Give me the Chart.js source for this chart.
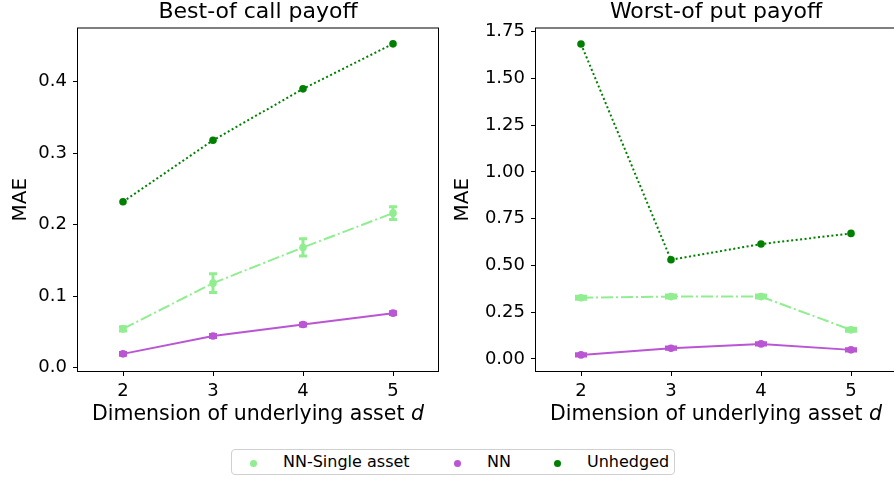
<!DOCTYPE html>
<html>
<head>
<meta charset="utf-8">
<script src="https://cdn.jsdelivr.net/npm/chart.js@4.4.1/dist/chart.umd.min.js"></script>
<style>
  body { margin: 0; width: 894px; height: 479px; overflow: hidden; background: #fff; position: relative; font-family: 'DejaVu Sans', sans-serif; }
  #c1 { position: absolute; left: 0; top: 0; }
  #c2 { position: absolute; left: 440px; top: 0; }
  #legend { position: absolute; left: 231px; top: 449px; width: 442px; height: 24px; border: 1px solid #d0d0d0; border-radius: 4px; background: #fff; }
  #legend i { position: absolute; top: 10px; width: 7px; height: 7px; border-radius: 50%; }
  #legend span { position: absolute; top: 4px; font-size: 16px; line-height: 16px; color: #000; white-space: nowrap; }
</style>
</head>
<body>
<canvas id="c1" width="450" height="440"></canvas>
<canvas id="c2" width="470" height="440"></canvas>
<div id="legend"></div>
<script>
// x positions (dimension d)
const dims = [2, 3, 4, 5];
const seriesNames = ['NN-Single asset', 'NN', 'Unhedged'];
const colors = ['#90ee90', '#ba55d3', '#008000'];

// Best-of call payoff
const callSingle = [0.054, 0.118, 0.168, 0.216];
const callSingleErr = [0.003, 0.013, 0.012, 0.009];
const callNN = [0.019, 0.044, 0.060, 0.076];
const callNNErr = [0.002, 0.002, 0.002, 0.002];
const callUnhedged = [0.232, 0.318, 0.390, 0.453];
const callTicks = [0, 0.1, 0.2, 0.3, 0.4];

// Worst-of put payoff
const putSingle = [0.327, 0.333, 0.333, 0.155];
const putSingleErr = [0.008, 0.008, 0.008, 0.008];
const putNN = [0.021, 0.057, 0.080, 0.048];
const putNNErr = [0.006, 0.006, 0.006, 0.006];
const putUnhedged = [1.684, 0.530, 0.614, 0.671];
const putTicks = [0, 0.25, 0.5, 0.75, 1.0, 1.25, 1.5, 1.75];

const FONT = 'DejaVu Sans';

function pts(vals) {
  return vals.map((v, i) => ({ x: dims[i], y: v }));
}

// draws vertical error bars with caps
const errorBars = {
  id: 'errorBars',
  afterDatasetsDraw(chart, args, opts) {
    const { ctx, scales: { x, y } } = chart;
    chart.data.datasets.forEach(ds => {
      if (!ds.errors) return;
      ctx.save();
      ctx.strokeStyle = ds.borderColor;
      ctx.lineWidth = 3;
      ds.data.forEach((p, j) => {
        const px = x.getPixelForValue(p.x);
        const lo = y.getPixelForValue(p.y - ds.errors[j]);
        const hi = y.getPixelForValue(p.y + ds.errors[j]);
        ctx.beginPath();
        ctx.moveTo(px, lo); ctx.lineTo(px, hi);
        ctx.moveTo(px - opts.cap, lo); ctx.lineTo(px + opts.cap, lo);
        ctx.moveTo(px - opts.cap, hi); ctx.lineTo(px + opts.cap, hi);
        ctx.stroke();
      });
      ctx.restore();
    });
  }
};

// box around plot, title over the plot area, x label with italic d
const frame = {
  id: 'frame',
  afterDraw(chart, args, opts) {
    const { ctx, chartArea: a } = chart;
    const cx = (a.left + a.right) / 2;
    ctx.save();
    ctx.strokeStyle = '#000';
    ctx.lineWidth = 1;
    ctx.strokeRect(a.left - 0.5, a.top - 0.5, a.right - a.left + 1, a.bottom - a.top + 1);

    ctx.fillStyle = '#000';
    ctx.textBaseline = 'alphabetic';
    ctx.textAlign = 'center';
    ctx.font = '22px "' + FONT + '"';
    ctx.fillText(opts.title, cx, 18);

    const t1 = 'Dimension of underlying asset ';
    const t2 = 'd';
    ctx.textAlign = 'left';
    ctx.font = '20.5px "' + FONT + '"';
    const w1 = ctx.measureText(t1).width;
    ctx.font = 'italic 20.5px "' + FONT + '"';
    const w2 = ctx.measureText(t2).width;
    const x0 = cx - (w1 + w2) / 2;
    ctx.font = '20.5px "' + FONT + '"';
    ctx.fillText(t1, x0, 420);
    ctx.font = 'italic 20.5px "' + FONT + '"';
    ctx.fillText(t2, x0 + w1, 420);
    ctx.restore();
  }
};

function makeChart(canvas, title, single, singleErr, nn, nnErr, unhedged, yMin, yMax, yTicks, digits, yWidth, padRight, yTitlePad, cap) {
  return new Chart(canvas, {
    type: 'line',
    data: {
      datasets: [
        { label: seriesNames[0], data: pts(single), errors: singleErr, borderColor: colors[0], backgroundColor: colors[0],
          borderWidth: 2, borderDash: [12, 3, 2, 3], pointRadius: 3.8, pointBorderWidth: 0 },
        { label: seriesNames[1], data: pts(nn), errors: nnErr, borderColor: colors[1], backgroundColor: colors[1],
          borderWidth: 2, pointRadius: 3.8, pointBorderWidth: 0 },
        { label: seriesNames[2], data: pts(unhedged), borderColor: colors[2], backgroundColor: colors[2],
          borderWidth: 2, borderDash: [2, 2.5], pointRadius: 3.8, pointBorderWidth: 0 }
      ]
    },
    options: {
      responsive: false,
      animation: false,
      layout: { padding: { left: 0, right: padRight, top: 28.5, bottom: 0 } },
      plugins: {
        legend: { display: false },
        tooltip: { enabled: false },
        title: { display: false },
        errorBars: { cap: cap },
        frame: { title: title }
      },
      scales: {
        x: {
          type: 'linear', min: 1.5, max: 5.5,
          afterBuildTicks: s => { s.ticks = dims.map(v => ({ value: v })); },
          afterFit: s => { s.height = 69; },
          border: { display: false },
          grid: { drawOnChartArea: false, tickLength: 5, tickColor: '#000' },
          ticks: { padding: 5, color: '#000', font: { family: FONT, size: 18 }, callback: v => String(v) }
        },
        y: {
          min: yMin, max: yMax,
          afterBuildTicks: s => { s.ticks = yTicks.map(v => ({ value: v })); },
          afterFit: s => { s.width = yWidth; },
          border: { display: false },
          grid: { drawOnChartArea: false, tickLength: 5, tickColor: '#000' },
          ticks: { padding: 6, color: '#000', font: { family: FONT, size: 18 }, callback: v => v.toFixed(digits) },
          title: { display: true, text: 'MAE', color: '#000', font: { family: FONT, size: 20 }, padding: { top: yTitlePad } }
        }
      }
    },
    plugins: [errorBars, frame]
  });
}

makeChart(document.getElementById('c1'), 'Best-of call payoff', callSingle, callSingleErr, callNN, callNNErr, callUnhedged,
  -0.005, 0.4745, callTicks, 1, 78, 12, 9, 4);
makeChart(document.getElementById('c2'), 'Worst-of put payoff', putSingle, putSingleErr, putNN, putNNErr, putUnhedged,
  -0.065, 1.767, putTicks, 2, 96, 14, 11, 6);

// shared legend
const legend = document.getElementById('legend');
const markerX = [18, 222, 322];
const textX = [51, 255, 355];
seriesNames.forEach((name, i) => {
  const m = document.createElement('i');
  m.style.left = markerX[i] + 'px';
  m.style.background = colors[i];
  legend.appendChild(m);
  const t = document.createElement('span');
  t.style.left = textX[i] + 'px';
  t.textContent = name;
  legend.appendChild(t);
});
</script>
</body>
</html>
